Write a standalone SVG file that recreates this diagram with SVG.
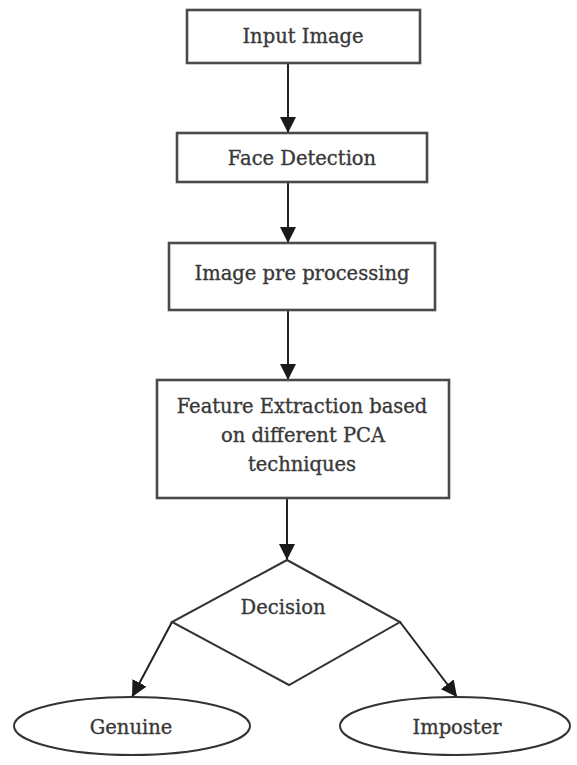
<svg xmlns="http://www.w3.org/2000/svg" width="577" height="765" viewBox="0 0 577 765">
  <defs>
    <marker id="arrow" markerUnits="userSpaceOnUse" markerWidth="16" markerHeight="16" viewBox="0 0 16 16" refX="16" refY="8" orient="auto">
      <path d="M0,0 L16,8 L0,16 Z" fill="#1a1a1a"/>
    </marker>
    <style>
      .box { fill: #ffffff; stroke: #4a4a4a; stroke-width: 2.6; }
      .shape { fill: #ffffff; stroke: #333333; stroke-width: 2; }
      .label { font-family: "DejaVu Serif", "Liberation Serif", serif; font-size: 19.5px; fill: #383838; stroke: #383838; stroke-width: 0.35; text-anchor: middle; }
      .edge { stroke: #222222; stroke-width: 2; fill: none; marker-end: url(#arrow); }
    </style>
  </defs>
  <rect width="577" height="765" fill="#ffffff"/>

  <g id="connectors">
    <line class="edge" x1="288" y1="63" x2="288" y2="133"/>
    <line class="edge" x1="288" y1="182" x2="288" y2="243"/>
    <line class="edge" x1="288" y1="310" x2="288" y2="380"/>
    <line class="edge" x1="287" y1="498" x2="287" y2="560"/>
    <line class="edge" x1="172" y1="622" x2="132" y2="697"/>
    <line class="edge" x1="400" y1="622" x2="457" y2="697"/>
  </g>

  <g id="input-image">
    <rect class="box" x="187" y="10" width="233" height="53"/>
    <text class="label" x="303" y="43">Input Image</text>
  </g>

  <g id="face-detection">
    <rect class="box" x="177" y="133" width="250" height="49"/>
    <text class="label" x="302" y="165">Face Detection</text>
  </g>

  <g id="pre-processing">
    <rect class="box" x="169" y="243" width="266" height="67"/>
    <text class="label" x="302" y="280">Image pre processing</text>
  </g>

  <g id="feature-extraction">
    <rect class="box" x="157" y="380" width="292" height="118"/>
    <text class="label" x="302" y="413">Feature Extraction based</text>
    <text class="label" x="303" y="442">on different PCA</text>
    <text class="label" x="302" y="471">techniques</text>
  </g>

  <g id="decision">
    <polygon class="shape" points="287,560 400,622 289,685 172,622"/>
    <text class="label" x="283" y="614">Decision</text>
  </g>

  <g id="genuine">
    <ellipse class="shape" cx="132" cy="726" rx="118" ry="29"/>
    <text class="label" x="131" y="734">Genuine</text>
  </g>

  <g id="imposter">
    <ellipse class="shape" cx="455" cy="726" rx="115" ry="29"/>
    <text class="label" x="457" y="734">Imposter</text>
  </g>
</svg>
